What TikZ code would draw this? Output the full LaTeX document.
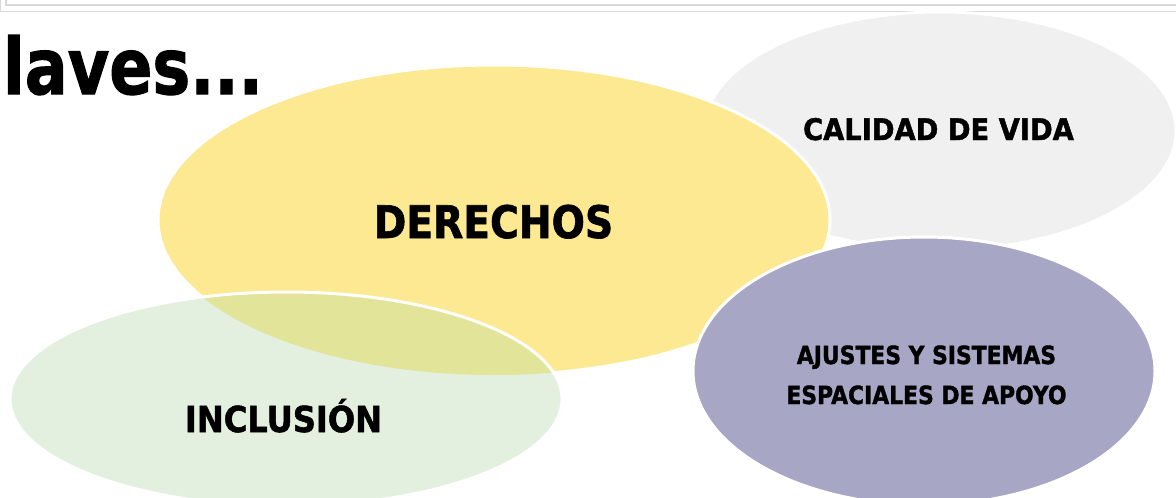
\documentclass[tikz,border=0pt]{standalone}
\usepackage{graphicx}
\usepackage{fontspec}
\setmainfont{DejaVu Sans}[BoldFeatures={FakeBold=1.5}]
\definecolor{framecol}{RGB}{217,217,217}
\definecolor{graycol}{RGB}{240,240,240}
\definecolor{yellowcol}{RGB}{252,233,145}
\definecolor{greencol}{RGB}{227,239,223}
\definecolor{overlapcol}{RGB}{226,228,154}
\definecolor{purplecol}{RGB}{167,166,197}
\begin{document}
\begin{tikzpicture}[x=1pt,y=-1pt,
  frameline/.style={draw=framecol,line width=1.4pt},
  blobedge/.style={draw=white,line width=3pt},
  lbl/.style={inner sep=0pt,outer sep=0pt,text=black,font=\bfseries}]
\useasboundingbox[fill=white] (0,0) rectangle (1176,498);
% top frame lines
\draw[frameline] (6,-5) |- (1180,5);
\draw[frameline] (0.7,-5) |- (1180,11.5);
% calidad de vida
\fill[graycol] (940,131) ellipse [x radius=236pt, y radius=119pt];
\draw[blobedge] (940,131) ellipse [x radius=236pt, y radius=119pt];
% derechos
\fill[yellowcol] (494,220) ellipse [x radius=336pt, y radius=155pt];
\draw[blobedge] (494,220) ellipse [x radius=336pt, y radius=155pt];
% inclusion
\fill[greencol] (286,399) ellipse [x radius=276pt, y radius=107pt];
\begin{scope}
  \clip (286,399) ellipse [x radius=276pt, y radius=107pt];
  \fill[overlapcol] (494,220) ellipse [x radius=336pt, y radius=155pt];
\end{scope}
\draw[blobedge] (286,399) ellipse [x radius=276pt, y radius=107pt];
% ajustes
\fill[purplecol] (924,371) ellipse [x radius=231pt, y radius=134pt];
\draw[blobedge] (924,371) ellipse [x radius=231pt, y radius=134pt];
% texts
\node[lbl,anchor=base west,font=\bfseries\fontsize{77.6}{80}\selectfont] (title) at (3,94) {\scalebox{0.82}[1]{laves...}};
\node[lbl,anchor=base,font=\bfseries\fontsize{44.8}{50}\selectfont] (derechos) at (493.5,238) {\scalebox{0.875}[1]{DERECHOS}};
\node[lbl,anchor=base,font=\bfseries\fontsize{29.7}{34}\selectfont] (calidad) at (938.5,140) {\scalebox{0.92}[1]{CALIDAD DE VIDA}};
\node[lbl,anchor=base,font=\bfseries\fontsize{25}{30}\selectfont] (ajustesA) at (926.5,364) {\scalebox{0.875}[1]{AJUSTES Y SISTEMAS}};
\node[lbl,anchor=base,font=\bfseries\fontsize{25}{30}\selectfont] (ajustesB) at (926.5,404) {\scalebox{0.875}[1]{ESPACIALES DE APOYO}};
\node[lbl,anchor=base,font=\bfseries\fontsize{35.7}{40}\selectfont] (inclusion) at (283.5,432) {\scalebox{0.9}[1]{INCLUSIÓN}};
\end{tikzpicture}
\end{document}
